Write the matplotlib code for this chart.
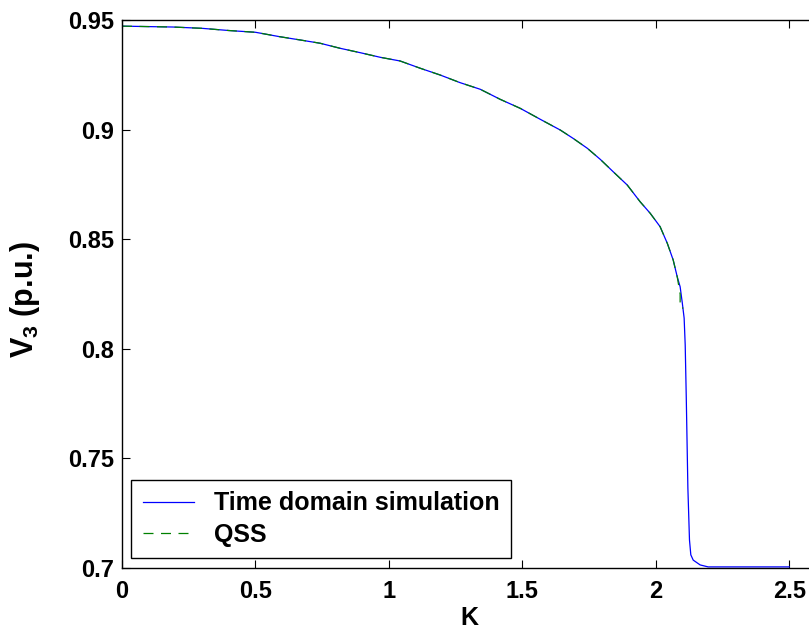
import matplotlib
matplotlib.use("Agg")
import matplotlib.pyplot as plt

plt.rcParams['font.family'] = ['Liberation Sans', 'DejaVu Sans']
plt.rcParams['font.weight'] = 'bold'
plt.rcParams['mathtext.fontset'] = 'custom'
plt.rcParams['mathtext.rm'] = 'Liberation Sans:bold'
plt.rcParams['mathtext.bf'] = 'Liberation Sans:bold'
plt.rcParams['mathtext.default'] = 'bf'

# Time domain simulation: bus voltage V3 versus loading factor K
k_tds = [0.0, 0.19, 0.30, 0.40, 0.50, 0.59, 0.667, 0.742, 0.817, 0.892,
         0.967, 1.042, 1.117, 1.192, 1.267, 1.342, 1.417, 1.492, 1.567, 1.642,
         1.690, 1.743, 1.792, 1.840, 1.893, 1.941, 1.979, 2.016, 2.043, 2.065,
         2.080, 2.091, 2.099, 2.106, 2.110, 2.114, 2.120, 2.126, 2.131, 2.140,
         2.166, 2.196, 2.5]
v_tds = [0.9472, 0.9468, 0.9462, 0.9452, 0.9444, 0.9424, 0.9409, 0.9394, 0.9371, 0.9351,
         0.9330, 0.9313, 0.9280, 0.9249, 0.9214, 0.9184, 0.9138, 0.9097, 0.9047, 0.8998,
         0.8960, 0.8915, 0.8864, 0.8808, 0.8747, 0.8671, 0.8618, 0.8557, 0.8481, 0.8405,
         0.8329, 0.8283, 0.8210, 0.8140, 0.8017, 0.7776, 0.7365, 0.7128, 0.7060, 0.7036,
         0.7014, 0.7005, 0.7005]

# Quasi steady-state approximation
k_qss = [0.0, 0.19, 0.30, 0.40, 0.50, 0.59, 0.667, 0.742, 0.817, 0.892,
         0.967, 1.042, 1.117, 1.192, 1.267, 1.342, 1.417, 1.492, 1.567, 1.642,
         1.690, 1.743, 1.792, 1.840, 1.893, 1.941, 1.979, 2.016, 2.043, 2.065,
         2.080, 2.091, 2.091, 2.103]
v_qss = [0.9472, 0.9468, 0.9462, 0.9452, 0.9444, 0.9424, 0.9409, 0.9394, 0.9371, 0.9351,
         0.9330, 0.9313, 0.9280, 0.9249, 0.9214, 0.9184, 0.9138, 0.9097, 0.9047, 0.8998,
         0.8960, 0.8915, 0.8864, 0.8808, 0.8747, 0.8671, 0.8618, 0.8557, 0.8481, 0.8405,
         0.8329, 0.8250, 0.8186, 0.8186]

x_ticks = [0, 0.5, 1, 1.5, 2, 2.5]
x_tick_labels = ['0', '0.5', '1', '1.5', '2', '2.5']
y_ticks = [0.7, 0.75, 0.8, 0.85, 0.9, 0.95]
y_tick_labels = ['0.7', '0.75', '0.8', '0.85', '0.9', '0.95']

fig = plt.figure(figsize=(8.09, 6.32), dpi=100)
ax = fig.add_axes([122 / 809, 64 / 632, 694 / 809, 548 / 632])

ax.plot(k_tds, v_tds, color=(0, 0, 1), lw=0.9, label='Time domain simulation')
ax.plot(k_qss, v_qss, color=(0, 0.5, 0), lw=0.9, ls=(0, (8, 6)), label='QSS')

ax.set_xlim(0, 2.6)
ax.set_ylim(0.7, 0.95)
ax.set_xticks(x_ticks)
ax.set_xticklabels(x_tick_labels)
ax.set_yticks(y_ticks)
ax.set_yticklabels(y_tick_labels)
ax.tick_params(direction='in', length=6, width=0.8, top=True, right=False,
               labelsize=17)
ax.tick_params(axis='y', pad=6)
ax.tick_params(axis='x', pad=9)
for lbl in ax.get_xticklabels() + ax.get_yticklabels():
    lbl.set_fontweight('bold')
for s in ax.spines.values():
    s.set_linewidth(1.0)

ax.set_xlabel('K', fontsize=18, fontweight='bold', labelpad=2)
ax.set_ylabel(r'V$_\mathbf{3}$ (p.u.)', fontsize=22, fontweight='bold', labelpad=14)
ax.yaxis.set_label_coords(-0.115, 0.49)

leg = ax.legend(loc='lower left', bbox_to_anchor=(0.0135, 0.018),
                frameon=True, fancybox=False, edgecolor='black', framealpha=1,
                handlelength=2.05, handletextpad=0.8, borderpad=0.45, labelspacing=0.3,
                borderaxespad=0.0,
                prop={'weight': 'bold', 'size': 18})
leg.get_frame().set_linewidth(1.0)

fig.savefig('out.png', dpi=100)
